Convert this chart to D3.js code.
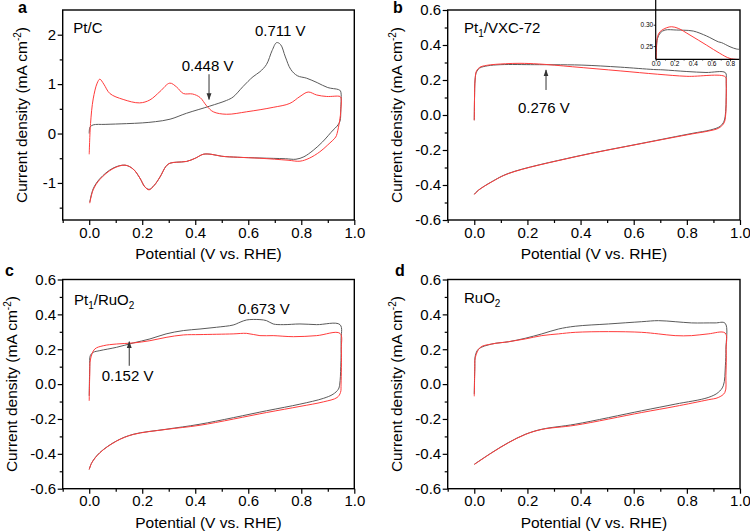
<!DOCTYPE html>
<html><head><meta charset="utf-8">
<script src="https://cdn.jsdelivr.net/npm/d3@7"></script>
<style>
body{margin:0;background:#fff}
svg{display:block}
text{font-family:"Liberation Sans",Arial,sans-serif;fill:#000}
</style>
</head><body>
<svg id="fig" width="750" height="532"></svg>
<script>
// ---------- tick values ----------
const xMajor = [0, 0.2, 0.4, 0.6, 0.8, 1.0];
const xMinor = [-0.1, 0.1, 0.3, 0.5, 0.7, 0.9];
const yMajorPtC = [-1, 0, 1, 2];
const yMinorPtC = [-1.5, -0.5, 0.5, 1.5];
const yMajorSmall = [-0.6, -0.4, -0.2, 0, 0.2, 0.4, 0.6];
const yMinorSmall = [-0.5, -0.3, -0.1, 0.1, 0.3, 0.5];
const insetXMajor = [0, 0.2, 0.4, 0.6, 0.8];
const insetXMinor = [0.1, 0.3, 0.5, 0.7];
const insetYMajor = [0.25, 0.30];

const panelLetters = ["a", "b", "c", "d"];

// ---------- data: [potential V, current density mA cm^-2], full CV loop ----------
const ptcBlack = [[0,0.0],[0.003,0.13],[0.015,0.175],[0.06,0.185],[0.14,0.2],[0.2,0.215],[0.25,0.24],[0.305,0.29],[0.367,0.41],[0.455,0.555],[0.518,0.67],[0.543,0.74],[0.58,0.95],[0.618,1.15],[0.644,1.25],[0.669,1.4],[0.69,1.68],[0.707,1.84],[0.722,1.8],[0.74,1.55],[0.76,1.3],[0.785,1.17],[0.82,1.12],[0.86,1.03],[0.9,0.93],[0.94,0.89],[0.948,0.86],
  [0.949,0.5],[0.946,0.25],[0.935,0.15],[0.92,0.07],[0.88,-0.17],[0.845,-0.34],[0.81,-0.47],[0.78,-0.52],[0.74,-0.51],[0.644,-0.495],[0.56,-0.48],[0.5,-0.46],[0.46,-0.42],[0.43,-0.42],[0.4,-0.5],[0.367,-0.565],[0.33,-0.58],[0.305,-0.6],[0.29,-0.66],[0.267,-0.88],[0.245,-1.05],[0.226,-1.13],[0.21,-1.08],[0.191,-0.9],[0.166,-0.72],[0.135,-0.64],[0.09,-0.7],[0.04,-0.915],[0.015,-1.12],[0.002,-1.39]];
const ptcRed = [[0,-0.42],[0.005,0.2],[0.015,0.7],[0.03,1.02],[0.04,1.1],[0.055,1.0],[0.078,0.81],[0.128,0.69],[0.19,0.62],[0.229,0.68],[0.267,0.85],[0.304,1.02],[0.33,0.94],[0.355,0.81],[0.39,0.8],[0.418,0.73],[0.443,0.56],[0.468,0.44],[0.518,0.39],[0.594,0.44],[0.694,0.53],[0.757,0.61],[0.795,0.75],[0.826,0.84],[0.858,0.78],[0.896,0.75],[0.946,0.75],
  [0.95,0.72],[0.949,0.45],[0.945,0.27],[0.935,0.0],[0.93,-0.07],[0.9,-0.23],[0.87,-0.37],[0.83,-0.5],[0.795,-0.56],[0.75,-0.54],[0.644,-0.5],[0.56,-0.48],[0.5,-0.46],[0.46,-0.42],[0.43,-0.42],[0.4,-0.5],[0.367,-0.565],[0.33,-0.58],[0.305,-0.6],[0.29,-0.66],[0.267,-0.88],[0.245,-1.05],[0.226,-1.14],[0.21,-1.08],[0.191,-0.9],[0.166,-0.72],[0.135,-0.64],[0.09,-0.71],[0.04,-0.93],[0.015,-1.14],[0.002,-1.41]];

const vxcBlack = [[0,-0.03],[0.001,0.1],[0.003,0.2],[0.008,0.245],[0.02,0.268],[0.05,0.281],[0.1,0.2876],[0.226,0.2876],[0.3,0.2872],[0.405,0.2852],[0.549,0.2735],[0.674,0.26],[0.71,0.258],[0.8,0.2484],[0.872,0.243],[0.945,0.242],
  [0.948,0.2],[0.948,0.1],[0.946,0.02],[0.94,-0.035],[0.925,-0.065],[0.89,-0.085],[0.82,-0.105],[0.63,-0.162],[0.38,-0.238],[0.13,-0.333],[0.066,-0.381],[0.016,-0.429],[0,-0.452]];
const vxcRed = [[0,-0.03],[0.001,0.1],[0.003,0.2],[0.008,0.25],[0.02,0.272],[0.046,0.2836],[0.118,0.293],[0.172,0.2953],[0.243,0.2915],[0.369,0.2758],[0.549,0.252],[0.69,0.233],[0.8,0.221],[0.945,0.218],
  [0.948,0.18],[0.948,0.08],[0.946,0.0],[0.94,-0.045],[0.92,-0.075],[0.88,-0.092],[0.82,-0.108],[0.63,-0.163],[0.38,-0.239],[0.13,-0.334],[0.066,-0.382],[0.016,-0.43],[0,-0.455]];

const ptRuBlack = [[0,-0.067],[0.002,0.1],[0.004,0.163],[0.015,0.182],[0.04,0.192],[0.103,0.211],[0.166,0.236],[0.229,0.259],[0.29,0.288],[0.355,0.307],[0.418,0.316],[0.48,0.326],[0.543,0.339],[0.569,0.355],[0.594,0.368],[0.644,0.37],[0.669,0.364],[0.694,0.345],[0.732,0.341],[0.795,0.345],[0.858,0.341],[0.946,0.341],
  [0.95,0.25],[0.949,0.1],[0.945,0.0],[0.94,-0.029],[0.92,-0.058],[0.883,-0.082],[0.795,-0.115],[0.669,-0.153],[0.418,-0.23],[0.29,-0.259],[0.166,-0.288],[0.103,-0.326],[0.04,-0.393],[0.01,-0.45],[0,-0.489]];
const ptRuRed = [[0,-0.096],[0.002,0.05],[0.005,0.144],[0.021,0.201],[0.053,0.22],[0.103,0.23],[0.166,0.236],[0.229,0.249],[0.29,0.268],[0.355,0.282],[0.418,0.284],[0.543,0.288],[0.594,0.291],[0.644,0.278],[0.694,0.278],[0.77,0.272],[0.858,0.278],[0.946,0.291],
  [0.951,0.2],[0.95,0.0],[0.948,-0.048],[0.935,-0.077],[0.883,-0.102],[0.795,-0.128],[0.669,-0.163],[0.418,-0.236],[0.29,-0.26],[0.166,-0.289],[0.103,-0.327],[0.04,-0.394],[0.01,-0.451],[0,-0.49]];

const ruBlack = [[0,-0.058],[0.002,0.1],[0.004,0.163],[0.016,0.201],[0.066,0.23],[0.129,0.243],[0.192,0.263],[0.254,0.288],[0.317,0.316],[0.38,0.332],[0.505,0.345],[0.63,0.358],[0.693,0.364],[0.756,0.358],[0.818,0.351],[0.906,0.351],[0.944,0.349],
  [0.947,0.2],[0.945,0.105],[0.937,-0.01],[0.918,-0.048],[0.88,-0.077],[0.756,-0.115],[0.63,-0.153],[0.38,-0.23],[0.254,-0.259],[0.192,-0.288],[0.129,-0.335],[0.066,-0.393],[0,-0.46]];
const ruRed = [[0,-0.07],[0.002,0.08],[0.004,0.153],[0.023,0.211],[0.066,0.23],[0.129,0.243],[0.192,0.259],[0.254,0.278],[0.317,0.288],[0.38,0.297],[0.505,0.301],[0.63,0.297],[0.693,0.288],[0.756,0.278],[0.818,0.278],[0.88,0.288],[0.944,0.293],
  [0.948,0.2],[0.947,0.05],[0.943,-0.048],[0.918,-0.077],[0.88,-0.09],[0.756,-0.128],[0.63,-0.163],[0.38,-0.236],[0.254,-0.26],[0.192,-0.289],[0.129,-0.336],[0.066,-0.394],[0,-0.461]];

// ---------- layout ----------
const svg = d3.select("#fig");
const BLACK = "#5a5a5a", RED = "#ff3b3b";

const panels = [
  {letter: panelLetters[0], L: 62.7, T: 10, R: 354.3, B: 220, yDom: [-1.75, 2.5], yMaj: yMajorPtC, yMin: yMinorPtC,
   fmt: d => String(d), series: [ptcBlack, ptcRed], letterPos: [18, 13.3], titleX: 26.7, xTitleY: 258.5,
   name: [["Pt/C", null, ""]], namePos: [10.6, 23.3],
   notes: [{t: "0.711 V", dx: 192.3, dy: 26}, {t: "0.448 V", dx: 119, dy: 61}],
   arrows: [{v: 0.452, j0: 1.2, j1: 0.69}]},
  {letter: panelLetters[1], L: 447.7, T: 10, R: 740, B: 220, yDom: [-0.6, 0.6], yMaj: yMajorSmall, yMin: yMinorSmall,
   fmt: d => d.toFixed(1), series: [vxcBlack, vxcRed], letterPos: [393, 13.3], titleX: 401.7, xTitleY: 258.5,
   name: [["Pt", "1", "/VXC-72"]], namePos: [16.3, 23.3],
   notes: [{t: "0.276 V", dx: 70.3, dy: 103}],
   arrows: [{v: 0.27, j0: 0.143, j1: 0.257}], inset: true},
  {letter: panelLetters[2], L: 62.7, T: 279.5, R: 354.3, B: 488.7, yDom: [-0.6, 0.6], yMaj: yMajorSmall, yMin: yMinorSmall,
   fmt: d => d.toFixed(1), series: [ptRuBlack, ptRuRed], letterPos: [5, 275.5], titleX: 16.7, xTitleY: 528,
   name: [["Pt", "1", "/RuO", "2"]], namePos: [11.3, 25.8],
   notes: [{t: "0.673 V", dx: 175.3, dy: 34.5}, {t: "0.152 V", dx: 39, dy: 101.5}],
   arrows: [{v: 0.151, j0: 0.105, j1: 0.243}]},
  {letter: panelLetters[3], L: 447.7, T: 279.5, R: 740, B: 488.7, yDom: [-0.6, 0.6], yMaj: yMajorSmall, yMin: yMinorSmall,
   fmt: d => d.toFixed(1), series: [ruBlack, ruRed], letterPos: [395, 275.5], titleX: 401.7, xTitleY: 528,
   name: [["RuO", "2"]], namePos: [16.3, 23.2],
   notes: [], arrows: []}
];

// arrow marker
const defs = svg.append("defs");
defs.append("marker").attr("id", "ah").attr("viewBox", "0 0 10 10").attr("refX", 9).attr("refY", 5)
  .attr("markerWidth", 7).attr("markerHeight", 7).attr("orient", "auto-start-reverse")
  .append("path").attr("d", "M0,1.5 L10,5 L0,8.5 Z").attr("fill", "#333");

panels.forEach((p, i) => {
  const w = p.R - p.L, h = p.B - p.T;
  const x = d3.scaleLinear().domain([-0.1, 1.0]).range([0, w]);
  const y = d3.scaleLinear().domain(p.yDom).range([h, 0]);
  const g = svg.append("g").attr("transform", `translate(${p.L},${p.T})`);

  defs.append("clipPath").attr("id", "clip" + i).append("rect").attr("width", w).attr("height", h);

  const line = d3.line().x(d => x(d[0])).y(d => y(d[1])).curve(d3.curveCatmullRom.alpha(0.5));
  const cg = g.append("g").attr("clip-path", `url(#clip${i})`);
  [BLACK, RED].forEach((c, k) => {
    cg.append("path").datum(p.series[k]).attr("d", line).attr("fill", "none")
      .attr("stroke", c).attr("stroke-width", 1).attr("stroke-linejoin", "round");
  });

  // axes
  const styleAxis = sel => { sel.select(".domain").remove(); sel.selectAll("line").attr("stroke", "#000").attr("stroke-width", 1.2);
    sel.selectAll("text").style("font-size", "15px").style("font-family", '"Liberation Sans",Arial,sans-serif'); };
  g.append("g").attr("transform", `translate(0,${h})`)
    .call(d3.axisBottom(x).tickValues(xMajor).tickSize(5).tickPadding(2).tickFormat(d => d.toFixed(1))).call(styleAxis);
  g.append("g").attr("transform", `translate(0,${h})`)
    .call(d3.axisBottom(x).tickValues(xMinor).tickSize(3).tickFormat("")).call(styleAxis);
  g.append("g").call(d3.axisLeft(y).tickValues(p.yMaj).tickSize(5).tickPadding(1.5).tickFormat(p.fmt)).call(styleAxis);
  g.append("g").call(d3.axisLeft(y).tickValues(p.yMin).tickSize(3).tickFormat("")).call(styleAxis);

  g.append("rect").attr("width", w).attr("height", h).attr("fill", "none").attr("stroke", "#000").attr("stroke-width", 1.4);

  // sample name with sub-scripts
  const nm = g.append("text").attr("x", p.namePos[0]).attr("y", p.namePos[1]).style("font-size", "15px");
  p.name[0].forEach((part, k) => {
    if (part === null || part === "") return;
    const sub = k % 2 === 1;
    nm.append("tspan").text(part).style("font-size", sub ? "10px" : "15px")
      .attr("dy", sub ? 4 : (k > 0 ? -4 : 0));
  });

  p.notes.forEach(n => g.append("text").attr("x", n.dx).attr("y", n.dy).style("font-size", "15px").text(n.t));
  p.arrows.forEach(a => g.append("line").attr("x1", x(a.v)).attr("x2", x(a.v)).attr("y1", y(a.j0)).attr("y2", y(a.j1))
    .attr("stroke", "#333").attr("stroke-width", 1).attr("marker-end", "url(#ah)"));

  // axis titles
  svg.append("text").attr("x", p.L + w / 2).attr("y", p.xTitleY).attr("text-anchor", "middle").style("font-size", "15.5px")
    .text("Potential (V vs. RHE)");
  const yt = svg.append("text").attr("transform", `translate(${p.titleX},${p.T + h / 2}) rotate(-90)`)
    .attr("text-anchor", "middle").style("font-size", "15.5px");
  yt.append("tspan").text("Current density (mA cm");
  yt.append("tspan").text("-2").style("font-size", "10px").attr("dy", -6);
  yt.append("tspan").text(")").attr("dy", 6);

  svg.append("text").attr("x", p.letterPos[0]).attr("y", p.letterPos[1]).style("font-size", "16px").style("font-weight", "bold").text(p.letter);

  // inset for panel b
  if (p.inset) {
    const iL = 655.7, iT = 0, iR = 739.3, iB = 59.3;
    const ix = d3.scaleLinear().domain([0, 0.9]).range([0, iR - iL]);
    const iy = d3.scaleLinear().domain([0.219, 0.358]).range([iB - iT, 0]);
    const ig = svg.append("g").attr("transform", `translate(${iL},${iT})`);
    defs.append("clipPath").attr("id", "iclip").append("rect").attr("width", iR - iL).attr("height", iB - iT);
    const il = d3.line().x(d => ix(d[0])).y(d => iy(d[1])).curve(d3.curveCatmullRom.alpha(0.5));
    const icg = ig.append("g").attr("clip-path", "url(#iclip)");
    [BLACK, RED].forEach((c, k) => {
      const up = p.series[k].filter((d, idx) => idx < p.series[k].findIndex(e => e[0] >= 0.945) + 1);
      icg.append("path").datum(up).attr("d", il).attr("fill", "none").attr("stroke", c).attr("stroke-width", 1);
    });
    const sAx = sel => { sel.select(".domain").remove(); sel.selectAll("line").attr("stroke", "#000").attr("stroke-width", 0.8);
      sel.selectAll("text").style("font-size", "6.5px").style("font-family", '"Liberation Sans",Arial,sans-serif'); };
    ig.append("g").attr("transform", `translate(0,${iB - iT})`)
      .call(d3.axisBottom(ix).tickValues(insetXMajor).tickSize(2).tickPadding(0.5).tickFormat(d => d.toFixed(1))).call(sAx);
    ig.append("g").attr("transform", `translate(0,${iB - iT})`)
      .call(d3.axisBottom(ix).tickValues(insetXMinor).tickSize(1.2).tickFormat("")).call(sAx);
    ig.append("g").call(d3.axisLeft(iy).tickValues(insetYMajor).tickSize(2).tickPadding(0.5).tickFormat(d => d.toFixed(2))).call(sAx);
    ig.append("line").attr("x1", 0).attr("x2", 0).attr("y1", 0).attr("y2", iB - iT).attr("stroke", "#000").attr("stroke-width", 1.2);
    ig.append("line").attr("x1", 0).attr("x2", iR - iL).attr("y1", iB - iT).attr("y2", iB - iT).attr("stroke", "#000").attr("stroke-width", 1.2);
  }
});
</script>
</body></html>
